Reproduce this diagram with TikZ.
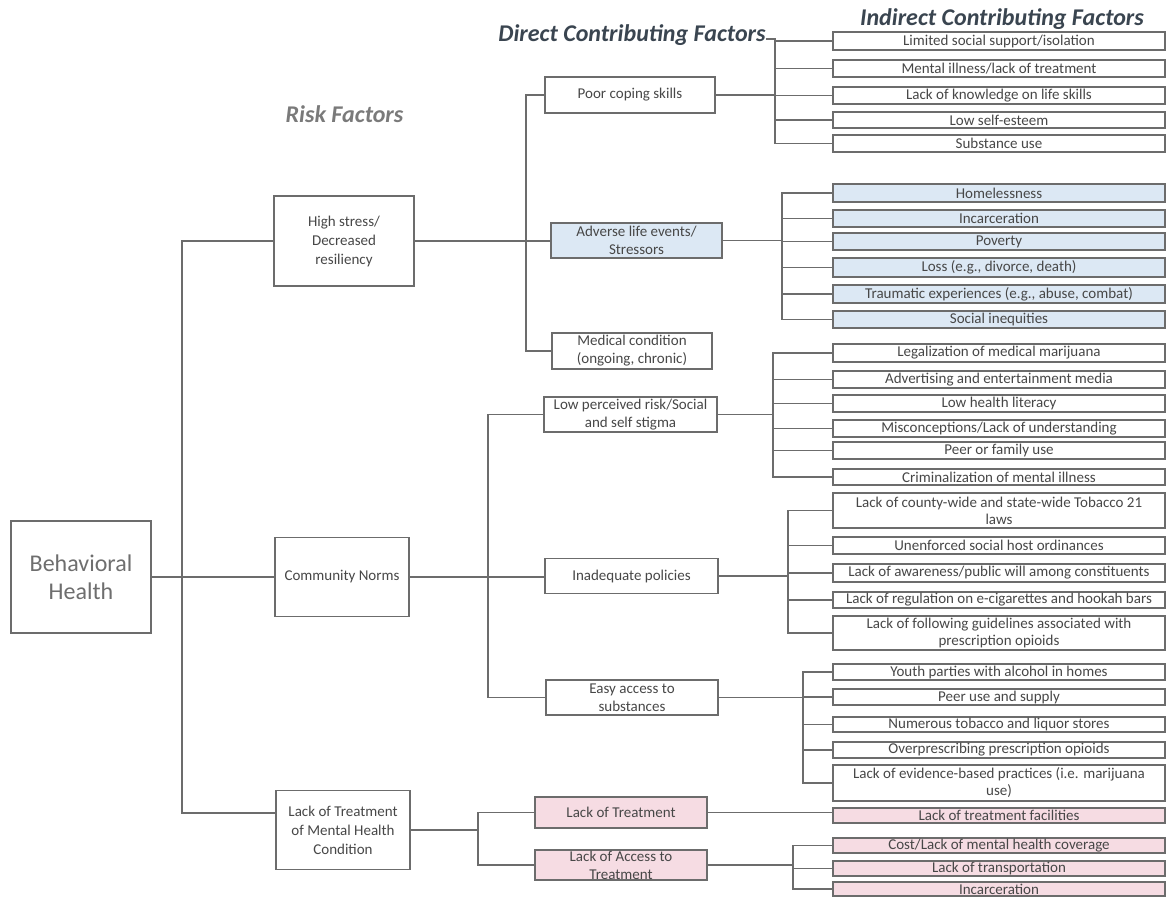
\documentclass[tikz,border=0pt]{standalone}
\usepackage{fontspec}
\setmainfont{Carlito}
\usetikzlibrary{calc}
\definecolor{edge}{HTML}{6C6C6C}
\definecolor{ink}{HTML}{474747}
\definecolor{bhink}{HTML}{6E6E6E}
\definecolor{paleblue}{HTML}{DCE8F4}
\definecolor{palepink}{HTML}{F6DCE3}
\definecolor{titleink}{HTML}{3A4550}
\definecolor{riskink}{HTML}{7A7A7A}
\begin{document}
\begin{tikzpicture}[x=1pt,y=-1pt,
  box/.style={draw=edge, line width=1.2pt, text=ink, align=center, inner sep=0pt,
    font=\fontsize{15}{18}\selectfont},
  indbox/.style={box, minimum width=332pt, minimum height=#1,
    font=\fontsize{15}{17}\selectfont},
  link/.style={draw=edge, line width=1.2pt},
  heading/.style={font=\fontsize{24}{28}\selectfont\bfseries\itshape, anchor=base, inner sep=0pt}]
\fill[white] (0,0) rectangle (1167,897);
\useasboundingbox (0,0) rectangle (1167,897);

% column headings
\node[heading, text=titleink] (tdirect) at (632,41) {Direct Contributing Factors};
\node[heading, text=titleink] (tindirect) at (1002,25) {Indirect Contributing Factors};
\node[heading, text=riskink] (trisk) at (344.5,122) {Risk Factors};

% root
\node[box, minimum width=140pt, minimum height=112pt, text=bhink,
  font=\fontsize{24}{28}\selectfont] (bh) at (81,577) {Behavioral\\Health};

% risk factors
\node[box, minimum width=140pt, minimum height=90pt, font=\fontsize{15}{19}\selectfont]
  (hs) at (344,241) {High stress/\\Decreased\\resiliency};
\node[box, minimum width=134pt, minimum height=79pt] (cn) at (342,577) {Community Norms};
\node[box, minimum width=134pt, minimum height=79pt, font=\fontsize{15}{19}\selectfont]
  (lt) at (343,830) {Lack of Treatment\\of Mental Health\\Condition};

% direct contributing factors
\node[box, minimum width=170pt, minimum height=36pt] (pcs) at (630,95) {Poor coping skills};
\node[box, minimum width=171pt, minimum height=35pt, fill=paleblue] (ale) at (636.5,240.5) {Adverse life events/\\Stressors};
\node[box, minimum width=160pt, minimum height=36pt] (med) at (632,351) {Medical condition\\(ongoing, chronic)};
\node[box, minimum width=173pt, minimum height=35pt] (lpr) at (630.5,414.5) {Low perceived risk/Social\\and self stigma};
\node[box, minimum width=173pt, minimum height=35pt] (ip) at (631.5,576) {Inadequate policies};
\node[box, minimum width=172pt, minimum height=35pt] (ea) at (632,697.5) {Easy access to\\substances};
\node[box, minimum width=172pt, minimum height=31pt, fill=palepink] (ltr) at (621,812.5) {Lack of Treatment};
\node[box, minimum width=172pt, minimum height=30pt, fill=palepink] (lat) at (621,865) {Lack of Access to\\Treatment};

% indirect contributing factors
\node[indbox=18pt] (a1) at (999,41) {Limited social support/isolation};
\node[indbox=17pt] (a2) at (999,68.5) {Mental illness/lack of treatment};
\node[indbox=17pt] (a3) at (999,95.5) {Lack of knowledge on life skills};
\node[indbox=16pt] (a4) at (999,120) {Low self-esteem};
\node[indbox=17pt] (a5) at (999,143.5) {Substance use};

\node[indbox=18pt, fill=paleblue] (b1) at (999,193) {Homelessness};
\node[indbox=17pt, fill=paleblue] (b2) at (999,218.5) {Incarceration};
\node[indbox=17pt, fill=paleblue] (b3) at (999,241.5) {Poverty};
\node[indbox=19pt, fill=paleblue] (b4) at (999,267.5) {Loss (e.g., divorce, death)};
\node[indbox=18pt, fill=paleblue] (b5) at (999,294) {Traumatic experiences (e.g., abuse, combat)};
\node[indbox=17pt, fill=paleblue] (b6) at (999,319.5) {Social inequities};

\node[indbox=18pt] (c1) at (999,353) {Legalization of medical marijuana};
\node[indbox=17pt] (c2) at (999,379.5) {Advertising and entertainment media};
\node[indbox=17pt] (c3) at (999,403.5) {Low health literacy};
\node[indbox=17pt] (c4) at (999,428.5) {Misconceptions/Lack of understanding};
\node[indbox=17pt] (c5) at (999,450.5) {Peer or family use};
\node[indbox=16pt] (c6) at (999,477) {Criminalization of mental illness};

\node[indbox=35pt] (d1) at (999,510.5) {Lack of county-wide and state-wide Tobacco 21\\laws};
\node[indbox=17pt] (d2) at (999,545.5) {Unenforced social host ordinances};
\node[indbox=18pt] (d3) at (999,573) {Lack of awareness/public will among constituents};
\node[indbox=16pt] (d4) at (999,600) {Lack of regulation on e-cigarettes and hookah bars};
\node[indbox=34pt] (d5) at (999,633) {Lack of following guidelines associated with\\prescription opioids};

\node[indbox=16pt] (e1) at (999,672) {Youth parties with alcohol in homes};
\node[indbox=16pt] (e2) at (999,697) {Peer use and supply};
\node[indbox=15pt] (e3) at (999,724.5) {Numerous tobacco and liquor stores};
\node[indbox=16pt] (e4) at (999,750) {Overprescribing prescription opioids};
\node[indbox=36pt] (e5) at (999,783) {Lack of evidence-based practices (i.e. marijuana\\use)};

\node[indbox=15pt, fill=palepink] (f1) at (999,815.5) {Lack of treatment facilities};

\node[indbox=15pt, fill=palepink] (g1) at (999,845.5) {Cost/Lack of mental health coverage};
\node[indbox=15pt, fill=palepink] (g2) at (999,868.5) {Lack of transportation};
\node[indbox=14pt, fill=palepink] (g3) at (999,889) {Incarceration};

% bracket positions
\coordinate (tx) at (182,0);
\coordinate (k1) at (526,0);
\coordinate (k2) at (488,0);
\coordinate (k3) at (478,0);
\coordinate (bA) at (775,0);
\coordinate (bB) at (782,0);
\coordinate (bC) at (773,0);
\coordinate (bD) at (788,0);
\coordinate (bE) at (803,0);
\coordinate (bG) at (793,0);
\coordinate (ltin) at (276,813);
\coordinate (stub) at (766,39);

% root to risk factors
\draw[link] (bh.east) -- (bh.east -| cn.west);
\draw[link] (hs.west) -| (ltin -| tx) -- (ltin);

% risk factors to direct factors
\draw[link] (hs.east) -- (hs.east -| ale.west);
\draw[link] (pcs.west) -| (k1 |- med.west) -- (med.west);
\draw[link] (cn.east) -- (cn.east -| ip.west);
\draw[link] (lpr.west) -| (k2 |- ea.west) -- (ea.west);
\draw[link] (lt.east) -- (lt.east -| k3);
\draw[link] (ltr.west) -| (k3 |- lat.west) -- (lat.west);

% direct factors to indirect factors
\draw[link] (pcs.east) -- (pcs.east -| bA);
\draw[link] (stub) -- (stub -| bA) |- (a5.west);
\draw[link] (a1.west) -- (a1.west -| bA);
\foreach \n in {a2,a3,a4} \draw[link] (bA |- \n.west) -- (\n.west);

\draw[link] (ale.east) -- (ale.east -| bB);
\draw[link] (b1.west) -| (bB |- b6.west) -- (b6.west);
\foreach \n in {b2,b3,b4,b5} \draw[link] (bB |- \n.west) -- (\n.west);

\draw[link] (lpr.east) -- (lpr.east -| bC);
\draw[link] (c1.west) -| (bC |- c6.west) -- (c6.west);
\foreach \n in {c2,c3,c4,c5} \draw[link] (bC |- \n.west) -- (\n.west);

\draw[link] (ip.east) -- (ip.east -| bD);
\draw[link] (d1.west) -| (bD |- d5.west) -- (d5.west);
\foreach \n in {d2,d3,d4} \draw[link] (bD |- \n.west) -- (\n.west);

\draw[link] (ea.east) -- (ea.east -| bE);
\draw[link] (e1.west) -| (bE |- e5.west) -- (e5.west);
\foreach \n in {e2,e3,e4} \draw[link] (bE |- \n.west) -- (\n.west);

\draw[link] (ltr.east) -- (ltr.east -| f1.west);

\draw[link] (lat.east) -- (lat.east -| bG);
\draw[link] (g1.west) -| (bG |- g3.west) -- (g3.west);
\draw[link] (bG |- g2.west) -- (g2.west);
\end{tikzpicture}
\end{document}
